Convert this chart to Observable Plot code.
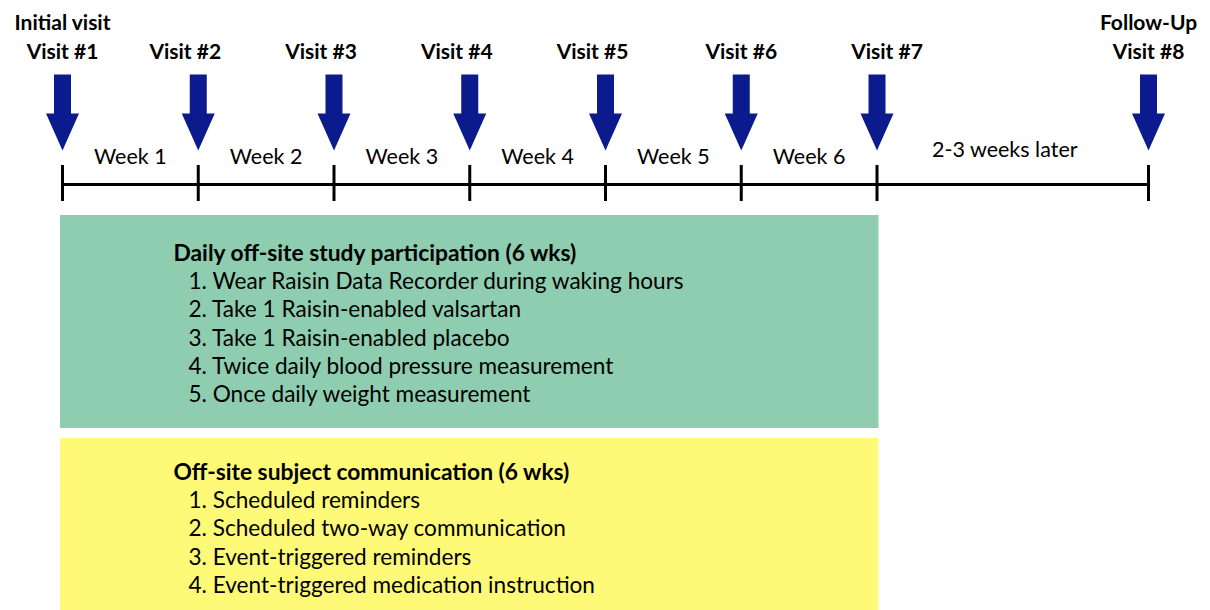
<!DOCTYPE html>
<html>
<head>
<meta charset="utf-8">
<script src="https://cdn.jsdelivr.net/npm/d3@7"></script>
<script src="https://cdn.jsdelivr.net/npm/@observablehq/plot@0.6"></script>
<style>
  body { margin: 0; background: #ffffff; }
  #chart svg { display: block; }
</style>
</head>
<body>
<div id="chart"></div>
<script>
// ---- data ----
const visitWeeks = [0, 1, 2, 3, 4, 5, 6, 8];
const visitTopLabels = ["Initial visit", "", "", "", "", "", "", "Follow-Up"];
const visitLabels = ["Visit #1", "Visit #2", "Visit #3", "Visit #4", "Visit #5", "Visit #6", "Visit #7", "Visit #8"];
const periodStarts = [0, 1, 2, 3, 4, 5, 6];
const periodEnds = [1, 2, 3, 4, 5, 6, 8];
const periodLabels = ["Week 1", "Week 2", "Week 3", "Week 4", "Week 5", "Week 6", "2-3 weeks later"];
const panelTitles = ["Daily off-site study participation (6 wks)", "Off-site subject communication (6 wks)"];
const panelItems1 = [
  "1. Wear Raisin Data Recorder during waking hours",
  "2. Take 1 Raisin-enabled valsartan",
  "3. Take 1 Raisin-enabled placebo",
  "4. Twice daily blood pressure measurement",
  "5. Once daily weight measurement"
];
const panelItems2 = [
  "1. Scheduled reminders",
  "2. Scheduled two-way communication",
  "3. Event-triggered reminders",
  "4. Event-triggered medication instruction"
];
const panelStartWeek = 0;
const panelEndWeek = 6;
const panelColors = ["#8ecdb0", "#fefa78"];

// ---- layout (pixels) ----
const FONT = "Lato, 'Open Sans', sans-serif";
const arrowColor = "#0b1a8c";
const xRange = [62, 1148];
const pxPerWeek = (xRange[1] - xRange[0]) / (visitWeeks[visitWeeks.length - 1] - visitWeeks[0]);
const lineY = 184, tickTop = 165, tickBottom = 201;
const arrowTop = 74, arrowLen = 76;
const panelBoxes = [{top: 215, bottom: 428}, {top: 438, bottom: 640}];
const panelTitleY = [253, 472];
const lineGap = 28.3;
const labelShift = [0, -13, -13, -13, -13, 0, 10, 0];

const visits = visitWeeks.map((w, i) => ({week: w, top: visitTopLabels[i], label: visitLabels[i], i}));
const periods = periodLabels.map((l, i) => ({start: periodStarts[i], end: periodEnds[i], label: l}));
const panels = panelTitles.map((t, i) => ({
  title: t, x1: panelStartWeek, x2: panelEndWeek, color: panelColors[i],
  y1: panelBoxes[i].top, y2: panelBoxes[i].bottom, ty: panelTitleY[i]
}));
const items = [];
panelItems1.forEach((t, j) => items.push({text: t, x: panelStartWeek, y: panelTitleY[0] + (j + 1) * lineGap}));
panelItems2.forEach((t, j) => items.push({text: t, x: panelStartWeek, y: panelTitleY[1] + (j + 1) * lineGap}));

// block-arrow shape for Plot.vector
const blockArrow = {
  draw(ctx, l) {
    const head = 37, hw = 16.5, sw = 8.5;
    ctx.moveTo(-sw, 0);
    ctx.lineTo(sw, 0);
    ctx.lineTo(sw, -(l - head));
    ctx.lineTo(hw, -(l - head));
    ctx.lineTo(0, -l);
    ctx.lineTo(-hw, -(l - head));
    ctx.lineTo(-sw, -(l - head));
    ctx.closePath();
  }
};

const chart = Plot.plot({
  width: 1210,
  height: 610,
  margin: 0,
  style: {fontFamily: FONT, background: "#ffffff", color: "#000"},
  x: {domain: [visitWeeks[0], visitWeeks[visitWeeks.length - 1]], range: xRange, axis: null},
  y: {domain: [0, 610], range: [0, 610], axis: null},
  marks: [
    // panels
    Plot.rect(panels, {x1: "x1", x2: "x2", y1: "y1", y2: "y2", fill: "color",
      insetLeft: -2, insetRight: -2, ariaLabel: "panel"}),
    Plot.text(panels, {x: "x1", y: "ty", text: "title", textAnchor: "start", dx: 111,
      fontSize: 22.8, fontWeight: "bold", fill: "#000", ariaLabel: "panel-title"}),
    Plot.text(items, {x: "x", y: "y", text: "text", textAnchor: "start", dx: 126,
      fontSize: 22.6, fill: "#000", ariaLabel: "panel-item"}),
    // timeline
    Plot.ruleY([lineY], {x1: visitWeeks[0], x2: visitWeeks[visitWeeks.length - 1], strokeWidth: 3, stroke: "#000"}),
    Plot.ruleX(visits, {x: "week", y1: tickTop, y2: tickBottom, strokeWidth: 3, stroke: "#000"}),
    // period labels
    Plot.text(periods, {
      x: d => (d.start + d.end) / 2 - (d.end - d.start > 1 ? 8 / pxPerWeek : 0),
      y: d => (d.end - d.start > 1 ? 150 : 157),
      text: "label", fontSize: 21.5, fill: "#000"}),
    // arrows
    Plot.vector(visits, {x: "week", y: () => arrowTop, length: arrowLen, rotate: 180, anchor: "start",
      shape: blockArrow, fill: arrowColor, stroke: "none", ariaLabel: "visit-arrow"}),
    // visit labels
    Plot.text(visits.filter(d => d.top), {x: "week", y: () => 23, text: "top",
      fontSize: 21, fontWeight: "bold", fill: "#000"}),
    Plot.text(visits, {x: d => d.week + labelShift[d.i] / pxPerWeek, y: () => 52, text: "label",
      fontSize: 21, fontWeight: "bold", fill: "#000"})
  ]
});

document.getElementById("chart").appendChild(chart);
d3.select(chart).selectAll('g[aria-label="panel"] rect')
  .style("filter", "drop-shadow(3px 3px 2px rgba(0,0,0,0.25))");
d3.select(chart).selectAll('g[aria-label="visit-arrow"] path')
  .style("filter", "drop-shadow(2px 2px 3px rgba(0,0,0,0.35))");
</script>
</body>
</html>
